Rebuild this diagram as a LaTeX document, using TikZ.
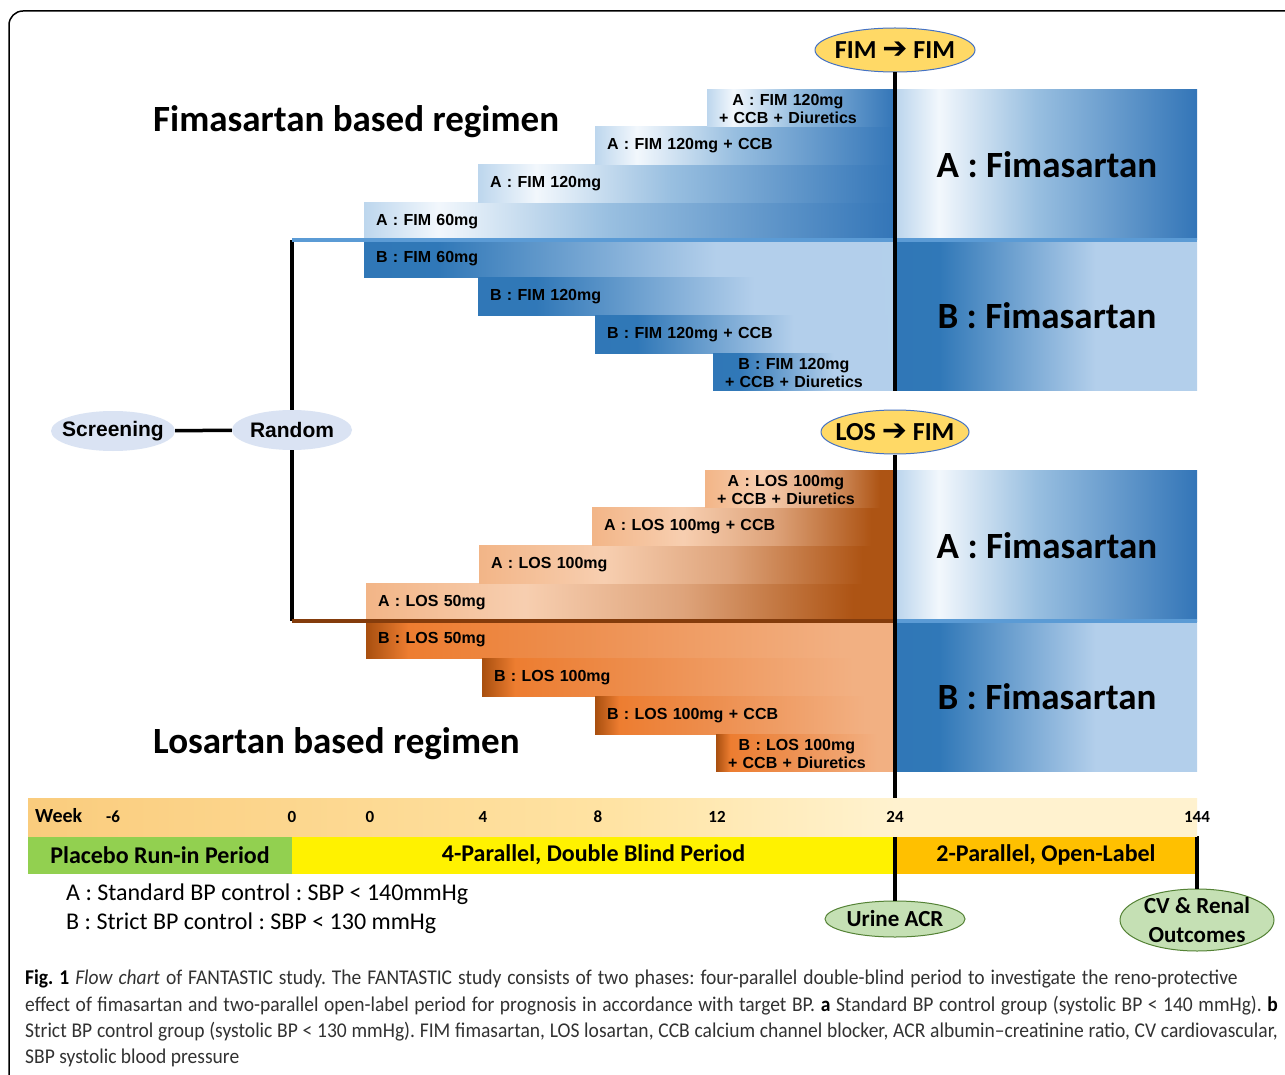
\documentclass[tikz,border=0pt]{standalone}
\usepackage{fontspec}
\setmainfont{Carlito}
\newfontfamily\arial{Liberation Sans}
\newfontfamily\dingbat{DejaVu Sans}
\usepackage{graphicx}
\usepackage{tikz}
\usetikzlibrary{shapes.geometric, positioning}
\usepackage{xcolor}
\definecolor{fimline}{RGB}{91,155,213}
\definecolor{losline}{RGB}{132,60,12}
\definecolor{tagblue}{RGB}{218,227,243}
\definecolor{tagyellow}{RGB}{255,217,102}
\definecolor{swapedge}{RGB}{68,114,196}
\definecolor{taggreen}{RGB}{197,224,180}
\definecolor{visitedge}{RGB}{84,130,53}
\definecolor{runin}{RGB}{146,208,80}
\definecolor{openlabel}{RGB}{255,192,0}
\definecolor{captext}{RGB}{50,50,50}

\pgfdeclarehorizontalshading{fimAshade}{100bp}{rgb(0bp)=(0.74,0.84,0.93); rgb(25bp)=(0.74,0.84,0.93); rgb(32bp)=(0.95,0.97,0.99); rgb(48bp)=(0.60,0.75,0.88); rgb(75bp)=(0.20,0.46,0.72); rgb(100bp)=(0.20,0.46,0.72)}
\pgfdeclarehorizontalshading{fimBshade}{100bp}{rgb(0bp)=(0.18,0.46,0.71); rgb(32bp)=(0.19,0.47,0.72); rgb(58bp)=(0.70,0.81,0.92); rgb(100bp)=(0.71,0.82,0.92)}
\pgfdeclarehorizontalshading{losAshade}{100bp}{rgb(0bp)=(0.95,0.71,0.53); rgb(25bp)=(0.95,0.71,0.53); rgb(40bp)=(0.97,0.81,0.69); rgb(55bp)=(0.87,0.64,0.48); rgb(71bp)=(0.68,0.33,0.08); rgb(100bp)=(0.66,0.31,0.06)}
\pgfdeclarehorizontalshading{losBshade}{100bp}{rgb(0bp)=(0.66,0.31,0.06); rgb(25bp)=(0.66,0.31,0.06); rgb(29bp)=(0.93,0.49,0.19); rgb(45bp)=(0.93,0.56,0.31); rgb(70bp)=(0.95,0.69,0.51); rgb(100bp)=(0.95,0.69,0.51)}
\pgfdeclarehorizontalshading{weekshade}{100bp}{rgb(0bp)=(0.98,0.80,0.49); rgb(25bp)=(0.98,0.80,0.49); rgb(50bp)=(1,0.89,0.64); rgb(62bp)=(1,0.95,0.81); rgb(100bp)=(1,0.95,0.81)}
\frenchspacing

\begin{document}
\begin{tikzpicture}[x=1pt, y=-1pt,
    bar/.style={rectangle, shade, minimum height=37.7pt, inner xsep=12pt, inner ysep=0pt, outer sep=0pt, align=left, font=\arial\bfseries\fontsize{16}{18}\selectfont},
    fimA/.style={bar, shading=fimAshade},
    fimB/.style={bar, shading=fimBshade},
    losA/.style={bar, shading=losAshade},
    losB/.style={bar, shading=losBshade},
    arm/.style={rectangle, shade, minimum width=300pt, minimum height=150.5pt, outer sep=0pt, font=\bfseries\fontsize{37}{40}\selectfont},
    tag/.style={ellipse, inner sep=0pt, fill=tagblue, minimum height=40pt, font=\arial\bfseries\fontsize{21}{24}\selectfont},
    swap/.style={ellipse, inner sep=0pt, draw=swapedge, line width=1pt, fill=tagyellow, minimum height=44pt, font=\bfseries\fontsize{26}{28}\selectfont},
    visit/.style={ellipse, inner sep=0pt, draw=visitedge, line width=1pt, fill=taggreen, font=\bfseries\fontsize{23}{29}\selectfont},
    period/.style={rectangle, minimum height=38pt, inner sep=0pt, outer sep=0pt, font=\bfseries\fontsize{24}{26}\selectfont},
    wk/.style={inner sep=0pt, font=\bfseries\fontsize{17}{20}\selectfont},
    regimen/.style={anchor=west, inner sep=0pt, font=\bfseries\fontsize{37}{40}\selectfont},
    note/.style={anchor=west, inner sep=0pt, font=\fontsize{24}{28}\selectfont},
    captionline/.style={anchor=west, inner sep=0pt, text=captext, font=\fontsize{21}{24}\selectfont},
    trunk/.style={line width=3.5pt, black}
]
\useasboundingbox (0,0) rectangle (1285,1075);
\fill[white] (0,0) rectangle (1285,1075);
\draw[line width=1.5pt, rounded corners=14pt] (9,11) rectangle (1320,1110);

% fimasartan arm
\node[regimen] (fimtitle) at (153,122) {Fimasartan based regimen};
\node[fimA, text width=507pt, anchor=south east] (fa1) at (895,240) {A : FIM 60mg};
\node[fimA, text width=393pt, above left=0pt and 0pt of fa1.north east] (fa2) {A : FIM 120mg};
\node[fimA, text width=276pt, above left=0pt and 0pt of fa2.north east] (fa3) {A : FIM 120mg + CCB};
\node[fimA, text width=164pt, above left=0pt and 0pt of fa3.north east] (fa4) {\raisebox{-7.5pt}[0pt][0pt]{\begin{tabular}{@{}c@{}}A : FIM 120mg\\+ CCB + Diuretics\end{tabular}}};
\node[fimB, text width=507pt, anchor=north east] (fb1) at (895,240) {B : FIM 60mg};
\node[fimB, text width=393pt, below left=0pt and 0pt of fb1.south east] (fb2) {B : FIM 120mg};
\node[fimB, text width=276pt, below left=0pt and 0pt of fb2.south east] (fb3) {B : FIM 120mg + CCB};
\node[fimB, text width=158pt, below left=0pt and 0pt of fb3.south east] (fb4) {\raisebox{-7.5pt}[0pt][0pt]{\begin{tabular}{@{}c@{}}B : FIM 120mg\\+ CCB + Diuretics\end{tabular}}};
\node[arm, shading=fimAshade, anchor=south west] (fimbigA) at (897,240) {A : Fimasartan};
\node[arm, shading=fimBshade, anchor=north west] (fimbigB) at (897,240) {B : Fimasartan};

% losartan arm
\node[regimen] (lostitle) at (153,744) {Losartan based regimen};
\node[losA, text width=505pt, anchor=south east] (la1) at (895,621) {A : LOS 50mg};
\node[losA, text width=392pt, above left=0pt and 0pt of la1.north east] (la2) {A : LOS 100mg};
\node[losA, text width=279pt, above left=0pt and 0pt of la2.north east] (la3) {A : LOS 100mg + CCB};
\node[losA, text width=166pt, above left=0pt and 0pt of la3.north east] (la4) {\raisebox{-7.5pt}[0pt][0pt]{\begin{tabular}{@{}c@{}}A : LOS 100mg\\+ CCB + Diuretics\end{tabular}}};
\node[losB, text width=505pt, anchor=north east] (lb1) at (895,621) {B : LOS 50mg};
\node[losB, text width=389pt, below left=0pt and 0pt of lb1.south east] (lb2) {B : LOS 100mg};
\node[losB, text width=276pt, below left=0pt and 0pt of lb2.south east] (lb3) {B : LOS 100mg + CCB};
\node[losB, text width=155pt, below left=0pt and 0pt of lb3.south east] (lb4) {\raisebox{-7.5pt}[0pt][0pt]{\begin{tabular}{@{}c@{}}B : LOS 100mg\\+ CCB + Diuretics\end{tabular}}};
\node[arm, shading=fimAshade, anchor=south west] (losbigA) at (897,621) {A : Fimasartan};
\node[arm, shading=fimBshade, anchor=north west] (losbigB) at (897,621) {B : Fimasartan};

% screening and randomisation
\node[tag, minimum width=124pt] (screen) at (113,431) {\makebox[0pt]{Screening}};
\node[tag, minimum width=120pt] (random) at (292,430) {\makebox[0pt]{Random}};
\node[swap, minimum width=160pt] (fimfim) at (895,50) {\makebox[0pt]{FIM {\dingbat\bfseries\fontsize{30}{30}\selectfont ➔} FIM}};
\node[swap, minimum width=148pt] (losfim) at (895,432) {\makebox[0pt]{LOS {\dingbat\bfseries\fontsize{30}{30}\selectfont ➔} FIM}};

\draw[trunk] (screen) -- (random);
\draw[trunk] (random) -- (random |- fa1.south);
\draw[trunk] (random) -- (random |- la1.south);
\draw[line width=4.5pt, fimline] (random |- fa1.south) -- (fimbigB.north east);
\draw[line width=4.5pt, losline] (random |- la1.south) -- (la1.south east);
\draw[line width=4.5pt, fimline] (losbigA.south west) -- (losbigA.south east);
\draw[trunk] (fimfim) -- (fimfim |- fimbigB.south);

% timeline
\node[period, fill=runin, minimum width=264pt, anchor=north west] (runin) at (28,836) {Placebo Run-in Period};
\node[period, fill=yellow, minimum width=603pt, right=0pt of runin] (blind) {4-Parallel, Double Blind Period};
\node[period, fill=openlabel, minimum width=302pt, right=0pt of blind] (open) {2-Parallel, Open-Label};
\node[visit, minimum width=140pt, minimum height=36pt] (urine) at (895,919) {\makebox[0pt]{Urine ACR}};
\node[visit, minimum width=154pt, minimum height=62pt] (cv) at (1197,920) {\makebox[0pt]{\raisebox{-8pt}[0pt][0pt]{\begin{tabular}{c}CV \& Renal\\Outcomes\end{tabular}}}};
\draw[trunk] (losfim) -- (urine);
\draw[trunk] (open.north east) -- (cv);
\node[rectangle, shade, shading=weekshade, minimum width=1169pt, minimum height=38pt, inner sep=0pt, outer sep=0pt, above right=0pt and 0pt of runin.north west] (week) {};
\node[wk, anchor=west, font=\bfseries\fontsize{20}{22}\selectfont] (wkname) at (35,816) {Week};
\node[wk] (wm6) at (113,817) {-6};
\node[wk] (w0a) at (292,817) {0};
\node[wk] (w0b) at (370,817) {0};
\node[wk] (w4) at (483,817) {4};
\node[wk] (w8) at (598,817) {8};
\node[wk] (w12) at (717,817) {12};
\node[wk] (w24) at (895,817) {24};
\node[wk] (w144) at (1197,817) {144};

\node[note] (noteA) at (66,894) {A : Standard BP control : SBP < 140mmHg};
\node[note] (noteB) at (66,923) {B : Strict BP control : SBP < 130 mmHg};

% caption
\node[captionline] (cap1) at (25,979) {\scalebox{0.93}[1]{\makebox[1304pt][s]{\textbf{\color{black}Fig. 1} \textit{Flow chart} of FANTASTIC study. The FANTASTIC study consists of two phases: four-parallel double-blind period to investigate the reno-protective}}};
\node[captionline] (cap2) at (25,1006) {\scalebox{0.93}[1]{\makebox[1347pt][s]{effect of fimasartan and two-parallel open-label period for prognosis in accordance with target BP. \textbf{\color{black}a} Standard BP control group (systolic BP < 140 mmHg). \textbf{\color{black}b}}}};
\node[captionline] (cap3) at (25,1032) {\scalebox{0.93}[1]{\makebox[1347pt][s]{Strict BP control group (systolic BP < 130 mmHg). FIM fimasartan, LOS losartan, CCB calcium channel blocker, ACR albumin--creatinine ratio, CV cardiovascular,}}};
\node[captionline] (cap4) at (25,1058) {\scalebox{0.93}[1]{SBP systolic blood pressure}};
\end{tikzpicture}
\end{document}
